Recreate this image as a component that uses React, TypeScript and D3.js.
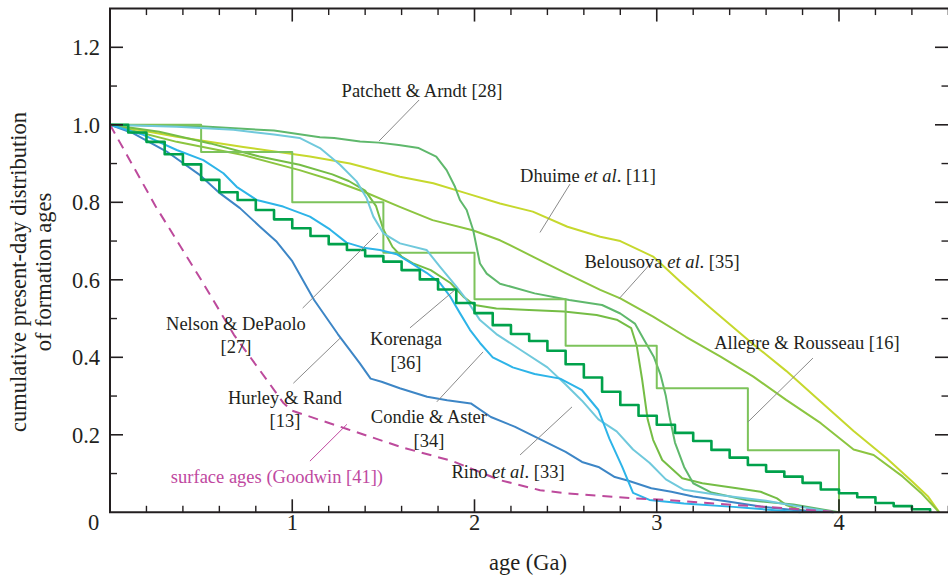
import React from "react";
import * as d3 from "d3";

type P = [number, number];

// ---------- data (age in Ga, cumulative fraction) ----------
const hurleyRand: P[] = [
  [0, 1], [0.128, 0.978], [0.311, 0.931], [0.494, 0.87], [0.604, 0.823], [0.713, 0.785],
  [0.823, 0.737], [0.915, 0.698], [1.0, 0.648], [1.12, 0.548], [1.25, 0.46], [1.37, 0.385],
  [1.43, 0.345], [1.49, 0.337], [1.59, 0.32], [1.74, 0.298], [1.85, 0.289], [1.98, 0.281],
  [2.09, 0.246], [2.22, 0.221], [2.37, 0.186], [2.5, 0.156], [2.59, 0.13], [2.68, 0.117],
  [2.77, 0.091], [2.84, 0.082], [2.97, 0.062], [3.08, 0.053], [3.2, 0.041], [3.39, 0.028],
  [3.57, 0.015], [3.75, 0.006], [3.97, 0],
];
const condieAster: P[] = [
  [0, 1], [0.183, 0.974], [0.366, 0.935], [0.512, 0.909], [0.622, 0.875], [0.695, 0.84],
  [0.805, 0.806], [0.95, 0.789], [1.097, 0.763], [1.207, 0.73], [1.298, 0.696], [1.39, 0.683],
  [1.481, 0.677], [1.573, 0.666], [1.664, 0.64], [1.737, 0.618], [1.81, 0.592], [1.865, 0.558],
  [1.92, 0.514], [1.975, 0.471], [2.03, 0.437], [2.1, 0.4], [2.21, 0.374], [2.33, 0.357],
  [2.47, 0.345], [2.59, 0.315], [2.68, 0.264], [2.74, 0.19], [2.81, 0.118], [2.87, 0.05],
  [2.96, 0.032], [3.15, 0.023], [3.42, 0.014], [3.79, 0],
];
const rino: P[] = [
  [0, 1], [0.366, 0.995], [0.677, 0.987], [0.9, 0.975], [1.04, 0.966], [1.152, 0.94],
  [1.262, 0.897], [1.353, 0.854], [1.408, 0.811], [1.445, 0.763], [1.5, 0.72], [1.591, 0.694],
  [1.737, 0.677], [1.81, 0.634], [1.902, 0.582], [1.957, 0.548], [2.03, 0.496], [2.12, 0.46],
  [2.26, 0.417], [2.4, 0.374], [2.5, 0.33], [2.59, 0.288], [2.68, 0.24], [2.78, 0.209],
  [2.87, 0.162], [2.96, 0.128], [3.05, 0.085], [3.15, 0.058], [3.33, 0.045], [3.6, 0.03],
  [3.79, 0.014], [3.97, 0],
];
const patchettArndt: P[] = [
  [0, 1], [0.494, 0.996], [0.9, 0.985], [1.152, 0.968], [1.23, 0.966], [1.372, 0.957],
  [1.475, 0.954], [1.584, 0.948], [1.694, 0.94], [1.79, 0.918], [1.847, 0.883], [1.893, 0.84],
  [1.92, 0.806], [1.957, 0.78], [1.993, 0.728], [2.03, 0.642], [2.067, 0.616], [2.14, 0.59],
  [2.33, 0.565], [2.52, 0.548], [2.7, 0.535], [2.8, 0.513], [2.88, 0.487], [2.93, 0.445],
  [2.985, 0.4], [3.02, 0.356], [3.05, 0.3], [3.07, 0.247], [3.1, 0.18], [3.15, 0.117],
  [3.2, 0.075], [3.3, 0.051], [3.49, 0.032], [3.75, 0.02], [4.0, 0],
];
const nelsonDePaolo: P[] = [
  [0, 1], [0.27, 0.982], [0.55, 0.952], [0.82, 0.918], [1.04, 0.897], [1.22, 0.872],
  [1.31, 0.855], [1.4, 0.83], [1.46, 0.79], [1.5, 0.73], [1.55, 0.685], [1.6, 0.66],
  [1.66, 0.643], [1.76, 0.625], [1.87, 0.591], [1.94, 0.556], [2.0, 0.535], [2.12, 0.526],
  [2.3, 0.522], [2.49, 0.518], [2.67, 0.509], [2.78, 0.497], [2.86, 0.475], [2.89, 0.43],
  [2.92, 0.342], [2.95, 0.24], [2.98, 0.187], [3.03, 0.135], [3.14, 0.088], [3.25, 0.075],
  [3.44, 0.062], [3.57, 0.053], [3.66, 0.036], [3.71, 0.019], [3.79, 0.006], [3.85, 0],
];
const belousova: P[] = [
  [0, 1], [0.366, 0.956], [0.73, 0.922], [1.04, 0.883], [1.22, 0.857], [1.4, 0.826],
  [1.59, 0.788], [1.77, 0.754], [1.99, 0.728], [2.14, 0.702], [2.32, 0.66], [2.5, 0.617],
  [2.69, 0.574], [2.8, 0.552], [2.98, 0.505], [3.16, 0.453], [3.35, 0.402], [3.53, 0.35],
  [3.71, 0.29], [3.9, 0.23], [4.08, 0.162], [4.19, 0.148], [4.35, 0.092], [4.45, 0.05],
  [4.55, 0],
];
const dhuime: P[] = [
  [0, 1], [0.366, 0.969], [0.731, 0.943], [1.097, 0.918], [1.317, 0.9], [1.591, 0.866],
  [1.774, 0.849], [1.957, 0.823], [2.14, 0.797], [2.32, 0.776], [2.51, 0.737], [2.69, 0.711],
  [2.8, 0.7], [2.98, 0.66], [3.13, 0.595], [3.3, 0.525], [3.5, 0.445], [3.71, 0.365],
  [3.9, 0.285], [4.08, 0.21], [4.26, 0.14], [4.4, 0.08], [4.49, 0.04], [4.55, 0],
];
const allegreRousseau: P[] = [
  [0, 1], [0.5, 0.93], [1.0, 0.8], [1.5, 0.67], [2.0, 0.55], [2.5, 0.43], [3.0, 0.32],
  [3.5, 0.16], [4.0, 0],
];
const korenagaStarts: number[] = d3.range(0, 46).map((i) => i / 10);
const korenagaValues: number[] = [
  1.0, 0.98, 0.956, 0.924, 0.898, 0.858, 0.826, 0.806, 0.78, 0.756,
  0.733, 0.713, 0.692, 0.677, 0.661, 0.647, 0.625, 0.601, 0.575, 0.54,
  0.514, 0.483, 0.46, 0.442, 0.417, 0.382, 0.348, 0.311, 0.277, 0.249,
  0.226, 0.205, 0.184, 0.161, 0.141, 0.122, 0.105, 0.092, 0.076, 0.059,
  0.049, 0.039, 0.024, 0.016, 0.008, 0,
];
const surfaceAges: P[] = [
  [0, 1], [0.25, 0.79], [0.5, 0.6], [0.68, 0.458], [0.86, 0.342], [0.95, 0.283],
  [1.0, 0.262], [1.3, 0.215], [1.6, 0.168], [1.88, 0.132], [2.14, 0.083], [2.36, 0.057],
  [2.51, 0.049], [2.87, 0.036], [3.05, 0.032], [3.42, 0.019], [3.6, 0.014], [4.0, 0],
];

const xTickValues = [0, 1, 2, 3, 4];
const xTickLabels = ["0", "1", "2", "3", "4"];
const yTickValues = [0.2, 0.4, 0.6, 0.8, 1.0, 1.2];
const yTickLabels = ["0.2", "0.4", "0.6", "0.8", "1.0", "1.2"];

// label annotations: text segments, anchor (data), leader from/to (data)
type Seg = { t: string; i?: boolean };
type Ann = { lines: Seg[][]; at: P; dy: number; from: P; to: P; color?: string; lead?: string };
const annotations: Ann[] = [
  { lines: [[{ t: "Patchett & Arndt [28]" }]], at: [1.712, 1.072], dy: 0, from: [1.696, 1.064], to: [1.476, 0.958] },
  { lines: [[{ t: "Dhuime " }, { t: "et al", i: true }, { t: ". [11]" }]], at: [2.623, 0.853], dy: 0, from: [2.524, 0.847], to: [2.359, 0.722] },
  { lines: [[{ t: "Belousova " }, { t: "et al", i: true }, { t: ". [35]" }]], at: [3.029, 0.63], dy: 0, from: [2.974, 0.646], to: [2.793, 0.551] },
  { lines: [[{ t: "Allegre & Rousseau [16]" }]], at: [3.824, 0.422], dy: 0, from: [3.857, 0.398], to: [3.5, 0.233] },
  { lines: [[{ t: "Nelson & DePaolo" }], [{ t: "[27]" }]], at: [0.691, 0.47], dy: 23.3, from: [1.057, 0.527], to: [1.471, 0.721] },
  { lines: [[{ t: "Hurley & Rand" }], [{ t: "[13]" }]], at: [0.96, 0.279], dy: 23, from: [1.006, 0.333], to: [1.262, 0.449] },
  { lines: [[{ t: "Korenaga" }], [{ t: "[36]" }]], at: [1.624, 0.431], dy: 23.3, from: [1.646, 0.476], to: [1.893, 0.574] },
  { lines: [[{ t: "Condie & Aster" }], [{ t: "[34]" }]], at: [1.75, 0.231], dy: 24, from: [1.793, 0.285], to: [2.047, 0.414] },
  { lines: [[{ t: "Rino " }, { t: "et al", i: true }, { t: ". [33]" }]], at: [2.184, 0.088], dy: 0, from: [2.25, 0.148], to: [2.535, 0.272] },
  { lines: [[{ t: "surface ages (Goodwin [41])" }]], at: [0.916, 0.075], dy: 0, from: [1.097, 0.132], to: [1.3, 0.227], color: "#c0489f", lead: "#c0489f" },
];

const INK = "#231f20";
const FONT = "'Liberation Serif', 'Times New Roman', serif";

export default function App() {
  const x = d3.scaleLinear().domain([0, 4.6]).range([110, 948.35]);
  const y = d3.scaleLinear().domain([0, 1.3]).range([512.3, 8.55]);
  const line = d3.line<P>().x((d) => x(d[0])).y((d) => y(d[1]));
  const stepLine = d3.line<P>().x((d) => x(d[0])).y((d) => y(d[1])).curve(d3.curveStepAfter);

  const korenaga: P[] = korenagaStarts.map((s, i) => [s, korenagaValues[i]]);

  const series: { d: P[]; c: string; w: number; step?: boolean; dash?: string }[] = [
    { d: dhuime, c: "#c6d82d", w: 2 },
    { d: belousova, c: "#8cc540", w: 2 },
    { d: nelsonDePaolo, c: "#75bd45", w: 2 },
    { d: patchettArndt, c: "#5fb86c", w: 2 },
    { d: allegreRousseau, c: "#7dc35b", w: 2, step: true },
    { d: hurleyRand, c: "#3d86c6", w: 2 },
    { d: rino, c: "#70c9dc", w: 2 },
    { d: condieAster, c: "#2db4e8", w: 2 },
    { d: korenaga, c: "#00a14b", w: 2.6, step: true },
    { d: surfaceAges, c: "#bd4a9c", w: 2, dash: "10 7" },
  ];

  const x0 = x(0), x1 = 948.35, y0 = y(0), y1 = y(1.3);
  const minorX = d3.range(0, 24).map((i) => i * 0.2).filter((v) => Math.abs(v - Math.round(v)) > 1e-6);
  const minorY = d3.range(1, 13).map((i) => i * 0.1).filter((v) => Math.abs(v * 5 - Math.round(v * 5)) > 1e-6);
  const majorY = d3.range(1, 7).map((i) => i * 0.2);

  return (
    <svg
      width={948}
      height={579}
      style={{ position: "absolute", left: 0, top: 0, background: "#fff" }}
      fontFamily={FONT}
    >
      <rect x={0} y={0} width={948} height={579} fill="#fff" />
      {/* series */}
      {series.map((s, i) => (
        <path
          key={i}
          d={(s.step ? stepLine : line)(s.d) || ""}
          fill="none"
          stroke={s.c}
          strokeWidth={s.w}
          strokeDasharray={s.dash}
          strokeLinejoin="round"
        />
      ))}
      {/* leaders */}
      {annotations.map((a, i) => (
        <line
          key={"l" + i}
          x1={x(a.from[0])}
          y1={y(a.from[1])}
          x2={x(a.to[0])}
          y2={y(a.to[1])}
          stroke={a.lead || "#8a8a8a"}
          strokeWidth={1}
        />
      ))}
      {/* labels */}
      {annotations.map((a, i) => (
        <g key={"t" + i}>
          {a.lines.map((ln, j) => (
            <text
              key={j}
              x={x(a.at[0])}
              y={y(a.at[1]) + j * a.dy}
              textAnchor="middle"
              fontSize={18.5}
              fill={a.color || INK}
            >
              {ln.map((sg, k) => (
                <tspan key={k} fontStyle={sg.i ? "italic" : "normal"}>
                  {sg.t}
                </tspan>
              ))}
            </text>
          ))}
        </g>
      ))}
      {/* frame */}
      <path d={`M${x1 + 1},${y1} H${x0} V${y0} H${x1 + 1}`} fill="none" stroke={INK} strokeWidth={2} />
      {/* x ticks bottom and top */}
      {xTickValues.map((v) => (
        <g key={"xm" + v}>
          <line x1={x(v)} x2={x(v)} y1={y0} y2={y0 - 13} stroke={INK} strokeWidth={1.6} />
          <line x1={x(v)} x2={x(v)} y1={y1} y2={y1 + 13} stroke={INK} strokeWidth={1.6} />
        </g>
      ))}
      {minorX.map((v) => (
        <g key={"xn" + v}>
          <line x1={x(v)} x2={x(v)} y1={y0} y2={y0 - 6.5} stroke={INK} strokeWidth={1.4} />
          <line x1={x(v)} x2={x(v)} y1={y1} y2={y1 + 6.5} stroke={INK} strokeWidth={1.4} />
        </g>
      ))}
      {/* y ticks left and right */}
      {majorY.map((v) => (
        <g key={"ym" + v}>
          <line x1={x0} x2={x0 + 13} y1={y(v)} y2={y(v)} stroke={INK} strokeWidth={1.6} />
          <line x1={948} x2={935} y1={y(v)} y2={y(v)} stroke={INK} strokeWidth={1.6} />
        </g>
      ))}
      {minorY.map((v) => (
        <g key={"yn" + v}>
          <line x1={x0} x2={x0 + 7} y1={y(v)} y2={y(v)} stroke={INK} strokeWidth={1.4} />
          <line x1={948} x2={941.5} y1={y(v)} y2={y(v)} stroke={INK} strokeWidth={1.4} />
        </g>
      ))}
      {/* tick labels */}
      {xTickValues.map((v, i) => (
        <text
          key={"xl" + v}
          x={v === 0 ? x(v) - 16.5 : x(v)}
          y={530}
          textAnchor="middle"
          fontSize={22.5}
          fill={INK}
        >
          {xTickLabels[i]}
        </text>
      ))}
      {yTickValues.map((v, i) => (
        <text key={"yl" + v} x={100} y={y(v) + 7.8} textAnchor="end" fontSize={22.5} fill={INK}>
          {yTickLabels[i]}
        </text>
      ))}
      {/* axis titles */}
      <text x={528} y={570} textAnchor="middle" fontSize={22.5} fill={INK}>
        age (Ga)
      </text>
      <g transform="translate(26,272) rotate(-90)">
        <text x={0} y={0} textAnchor="middle" fontSize={22.5} fill={INK}>
          cumulative present-day distribution
        </text>
        <text x={0} y={25} textAnchor="middle" fontSize={22.5} fill={INK}>
          of formation ages
        </text>
      </g>
    </svg>
  );
}
